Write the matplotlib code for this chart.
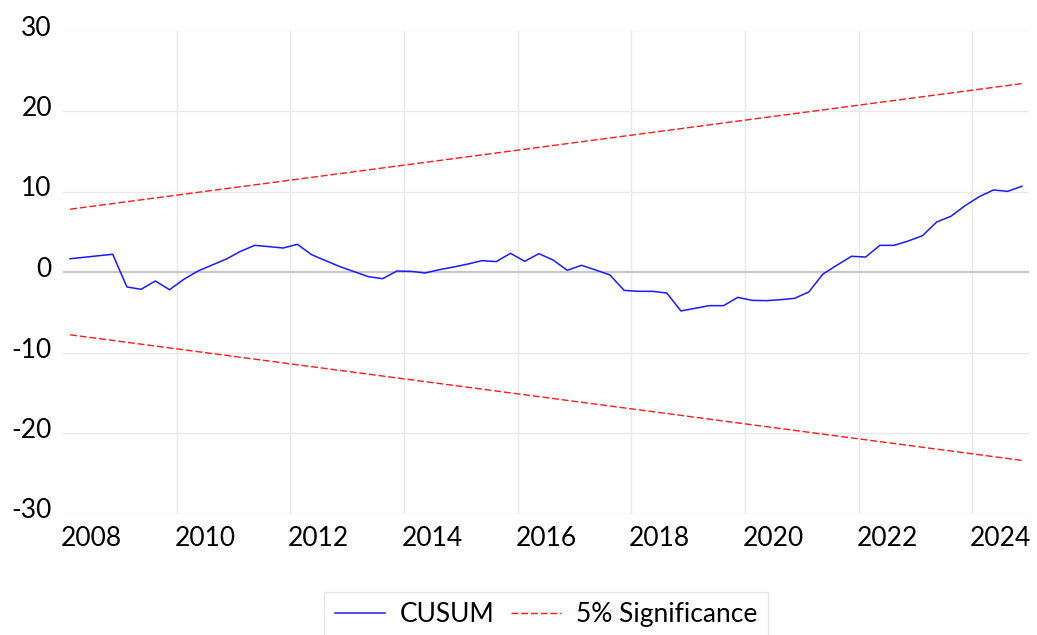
import matplotlib
matplotlib.use("Agg")
import matplotlib.pyplot as plt
import matplotlib.transforms as mtransforms
import numpy as np
import pandas as pd

# ---- data ----
quarters = pd.period_range("2008Q1", "2024Q4", freq="Q")
cusum = [1.65, 1.83, 2.02, 2.2, -1.86, -2.15, -1.12, -2.2, -0.91, 0.12,
         0.87, 1.61, 2.57, 3.31, 3.15, 2.98, 3.44, 2.15, 1.4, 0.66,
         0.04, -0.58, -0.83, 0.12, 0.08, -0.12, 0.29, 0.62, 0.99, 1.41,
         1.29, 2.32, 1.33, 2.28, 1.49, 0.21, 0.83, 0.25, -0.37, -2.28,
         -2.4, -2.4, -2.61, -4.84, -4.51, -4.18, -4.18, -3.15, -3.52, -3.56,
         -3.44, -3.27, -2.48, -0.25, 0.87, 1.95, 1.86, 3.31, 3.31, 3.85,
         4.51, 6.21, 6.92, 8.24, 9.36, 10.19, 10.02, 10.65]
sig_upper = [7.8, 23.4]   # at first and last observation
sig_lower = [-7.8, -23.4]
year_labels = [str(y) for y in range(2008, 2025, 2)]
yticks = [-30, -20, -10, 0, 10, 20, 30]

# x position: middle of each quarter in fractional years
x = np.array([p.year + (p.quarter - 1) / 4 + 0.125 for p in quarters])
x_ends = [x[0], x[-1]]

plt.rcParams['font.family'] = ['Lato', 'DejaVu Sans']

fig = plt.figure(figsize=(10.37, 6.35), dpi=100)
ax = fig.add_axes([63 / 1037, (635 - 513.5) / 635, (1029 - 63) / 1037, 483 / 635])

ax.set_xlim(2008, 2025)
ax.set_ylim(-30, 30)

# grid
for yy in yticks:
    if yy == 0:
        ax.axhline(0, color="#c8c8c8", lw=1.6, zorder=1)
    else:
        ax.axhline(yy, color="#e8e8e8", lw=1.0, zorder=0)
for yr in range(2010, 2025, 2):
    ax.axvline(yr, color="#e8e8e8", lw=1.0, zorder=0)

ax.plot(x, cusum, color="#1a1aff", lw=1.1, label="CUSUM", zorder=3)
ax.plot(x_ends, sig_upper, color="#ff1a1a", lw=1.0, ls=(0, (5, 2)),
        label="5% Significance", zorder=2)
ax.plot(x_ends, sig_lower, color="#ff1a1a", lw=1.0, ls=(0, (5, 2)), zorder=2)

for s in ax.spines.values():
    s.set_visible(False)

ax.set_yticks(yticks)
ax.set_yticklabels([str(v) for v in yticks])
ax.set_xticks([y + 0.5 for y in range(2008, 2025, 2)])
ax.set_xticklabels(year_labels)
ax.tick_params(axis="both", length=0, labelsize=19, colors="black")
ax.tick_params(axis="y", pad=8)
ax.tick_params(axis="x", pad=9)

offset = mtransforms.ScaledTranslation(0, 0.05, fig.dpi_scale_trans)
for lab in ax.get_yticklabels():
    lab.set_transform(lab.get_transform() + offset)

leg = fig.legend(loc="upper center", bbox_to_anchor=(546 / 1037, 1 - 591.7 / 635),
                 ncol=2, fontsize=19, frameon=True, fancybox=False,
                 handlelength=1.9, handletextpad=0.55, columnspacing=0.65,
                 borderpad=0.4, borderaxespad=0.0)
leg.get_frame().set_edgecolor("#e0e0e0")
leg.get_frame().set_linewidth(1.0)

fig.savefig("out.png", dpi=100)
